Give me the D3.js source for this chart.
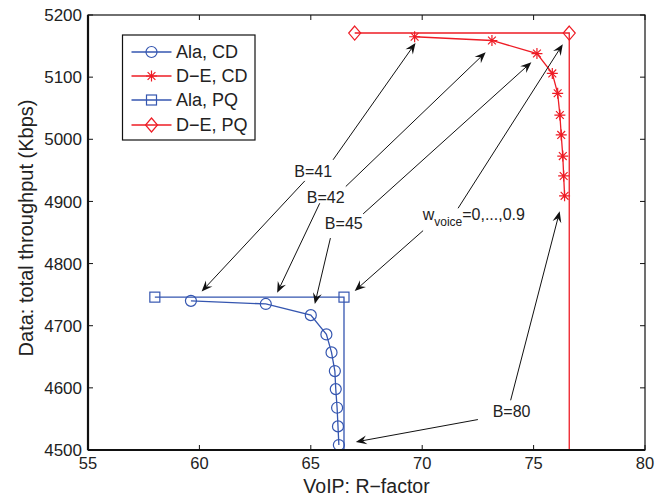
<!DOCTYPE html>
<html><head><meta charset="utf-8">
<script src="https://cdn.jsdelivr.net/npm/d3@7"></script>
<style>body{margin:0;background:#fff}svg{display:block}text{font-family:"Liberation Sans",Arial,Helvetica,sans-serif;fill:#222}</style>
</head><body><svg id="c" width="672" height="497"></svg>
<script>
// ---- data ----
const alaCD_r = [59.62, 62.98, 65.0, 65.70, 65.93, 66.08, 66.12, 66.18, 66.22, 66.26];
const alaCD_t = [4740, 4735, 4717, 4686, 4657, 4627, 4598, 4568, 4538, 4508];
const deCD_r = [69.66, 73.13, 75.15, 75.84, 76.08, 76.18, 76.24, 76.31, 76.35, 76.39];
const deCD_t = [5165, 5159, 5138, 5106, 5074, 5039, 5007, 4973, 4941, 4909];
const alaPQ_r = [58.0, 66.49, 66.49];
const alaPQ_t = [4746, 4746, 4300];
const dePQ_r = [66.97, 76.6, 76.6];
const dePQ_t = [5171, 5171, 4300];
const xTicks = [55, 60, 65, 70, 75, 80];
const yTicks = [4500, 4600, 4700, 4800, 4900, 5000, 5100, 5200];
const legendLabels = ["Ala, CD", "D\u2212E, CD", "Ala, PQ", "D\u2212E, PQ"];
// annotation arrows: [fromR, fromT, toR, toT]
const arrows = [
  [66.0, 4967, 69.70, 5155], [64.73, 4933, 60.10, 4755],
  [66.57, 4924, 72.85, 5140], [65.40, 4897, 63.49, 4753],
  [67.35, 4880, 74.90, 5124], [65.88, 4841, 65.18, 4735],
  [71.61, 4889, 76.31, 5153], [70.04, 4853, 66.97, 4756],
  [73.97, 4580, 76.17, 4884], [72.50, 4549, 67.02, 4513]
];
const labels = [["B=41", 65.11, 4949], ["B=42", 65.67, 4906], ["B=45", 66.48, 4865], ["B=80", 74.01, 4563]];
const wLabel = [70.02, 4870];

// ---- layout ----
const L = 88, R = 645, T = 15, B = 450;
const blue = "#3556b0", red = "#ee1c25";
const svg = d3.select("#c");
const x = d3.scaleLinear().domain([55, 80]).range([L, R]);
const y = d3.scaleLinear().domain([4500, 5200]).range([B, T]);

svg.append("defs").append("clipPath").attr("id", "clip")
  .append("rect").attr("x", L).attr("y", T).attr("width", R - L).attr("height", B - T);

const plot = svg.append("g").attr("clip-path", "url(#clip)");
const line = d3.line().x(d => x(d[0])).y(d => y(d[1]));
const zip = (a, b) => a.map((v, i) => [v, b[i]]);

function drawMarker(g, type, cx, cy, color) {
  if (type === "circle") g.append("circle").attr("cx", cx).attr("cy", cy).attr("r", 5.5).attr("fill", "none").attr("stroke", color).attr("stroke-width", 1.2);
  else if (type === "square") g.append("rect").attr("x", cx - 5).attr("y", cy - 5).attr("width", 10).attr("height", 10).attr("fill", "none").attr("stroke", color).attr("stroke-width", 1.2);
  else if (type === "diamond") g.append("path").attr("d", `M${cx},${cy - 7}L${cx + 6},${cy}L${cx},${cy + 7}L${cx - 6},${cy}Z`).attr("fill", "none").attr("stroke", color).attr("stroke-width", 1.2);
  else if (type === "star") {
    const s = 5.5, d = 3.9;
    g.append("path").attr("d", `M${cx - s},${cy}H${cx + s}M${cx},${cy - s}V${cy + s}M${cx - d},${cy - d}L${cx + d},${cy + d}M${cx - d},${cy + d}L${cx + d},${cy - d}`)
      .attr("stroke", color).attr("stroke-width", 1.2).attr("fill", "none");
  }
}

const series = [
  [alaCD_r, alaCD_t, blue, "circle"],
  [deCD_r, deCD_t, red, "star"],
  [alaPQ_r, alaPQ_t, blue, "square"],
  [dePQ_r, dePQ_t, red, "diamond"]
];
series.forEach(([rs, ts, col, m]) => {
  const pts = zip(rs, ts);
  plot.append("path").attr("d", line(pts)).attr("fill", "none").attr("stroke", col).attr("stroke-width", 1.3);
  pts.forEach(p => drawMarker(plot, m, x(p[0]), y(p[1]), col));
});

// axes box
const ax = svg.append("g");
ax.append("rect").attr("x", L).attr("y", T).attr("width", R - L).attr("height", B - T).attr("fill", "none").attr("stroke", "#111").attr("stroke-width", 1.2);
ax.append("line").attr("x1", L).attr("x2", R).attr("y1", B).attr("y2", B).attr("stroke", "#111").attr("stroke-width", 2.2);
ax.append("line").attr("x1", L).attr("x2", L).attr("y1", T).attr("y2", B).attr("stroke", "#111").attr("stroke-width", 2.2);
xTicks.forEach(v => {
  ax.append("line").attr("x1", x(v)).attr("x2", x(v)).attr("y1", B).attr("y2", B - 5).attr("stroke", "#111");
  ax.append("line").attr("x1", x(v)).attr("x2", x(v)).attr("y1", T).attr("y2", T + 5).attr("stroke", "#111");
  ax.append("text").attr("x", x(v)).attr("y", 469).attr("text-anchor", "middle").attr("font-size", 16.5).text(v);
});
yTicks.forEach(v => {
  ax.append("line").attr("x1", L).attr("x2", L + 5).attr("y1", y(v)).attr("y2", y(v)).attr("stroke", "#111");
  ax.append("line").attr("x1", R).attr("x2", R - 5).attr("y1", y(v)).attr("y2", y(v)).attr("stroke", "#111");
  ax.append("text").attr("x", 82).attr("y", y(v)).attr("dy", "0.36em").attr("text-anchor", "end").attr("font-size", 17).text(v);
});
svg.append("text").attr("x", (L + R) / 2).attr("y", 493).attr("text-anchor", "middle").attr("font-size", 19.5).text("VoIP: R\u2212factor");
svg.append("text").attr("transform", `translate(33,228) rotate(-90)`).attr("text-anchor", "middle").attr("font-size", 20).text("Data: total throughput (Kbps)");

// legend
const lg = svg.append("g");
lg.append("rect").attr("x", 122.5).attr("y", 35).attr("width", 132.5).attr("height", 105).attr("fill", "#fff").attr("stroke", "#111").attr("stroke-width", 1.2);
const lgColors = [blue, red, blue, red], lgMarks = ["circle", "star", "square", "diamond"], lgY = [52, 76, 100, 125];
legendLabels.forEach((t, i) => {
  lg.append("line").attr("x1", 131.5).attr("x2", 171.5).attr("y1", lgY[i]).attr("y2", lgY[i]).attr("stroke", lgColors[i]).attr("stroke-width", 1.3);
  drawMarker(lg, lgMarks[i], 151.5, lgY[i], lgColors[i]);
  lg.append("text").attr("x", 176).attr("y", lgY[i]).attr("dy", "0.36em").attr("font-size", 18).text(t);
});

// annotations
const an = svg.append("g");
arrows.forEach(([r0, t0, r1, t1]) => {
  const x0 = x(r0), y0 = y(t0), x1 = x(r1), y1 = y(t1);
  const dx = x1 - x0, dy = y1 - y0, len = Math.hypot(dx, dy), ux = dx / len, uy = dy / len;
  const hl = 11, hw = 4.5, nb = 7;
  an.append("line").attr("x1", x0).attr("y1", y0).attr("x2", x1 - ux * nb).attr("y2", y1 - uy * nb).attr("stroke", "#111").attr("stroke-width", 1);
  const bx = x1 - ux * hl, by = y1 - uy * hl, nx = x1 - ux * nb, ny = y1 - uy * nb;
  an.append("path").attr("d", `M${x1},${y1}L${bx - uy * hw},${by + ux * hw}L${nx},${ny}L${bx + uy * hw},${by - ux * hw}Z`).attr("fill", "#111");
});
labels.forEach(([t, r, v]) => {
  an.append("text").attr("x", x(r)).attr("y", y(v)).attr("dy", "0.36em").attr("text-anchor", "middle").attr("font-size", 16).text(t);
});
const wt = an.append("text").attr("x", x(wLabel[0])).attr("y", y(wLabel[1])).attr("font-size", 16);
wt.append("tspan").text("w");
wt.append("tspan").attr("font-size", 12).attr("dy", 6).text("voice");
wt.append("tspan").attr("dy", -6).text("=0,...,0.9");
</script></body></html>
